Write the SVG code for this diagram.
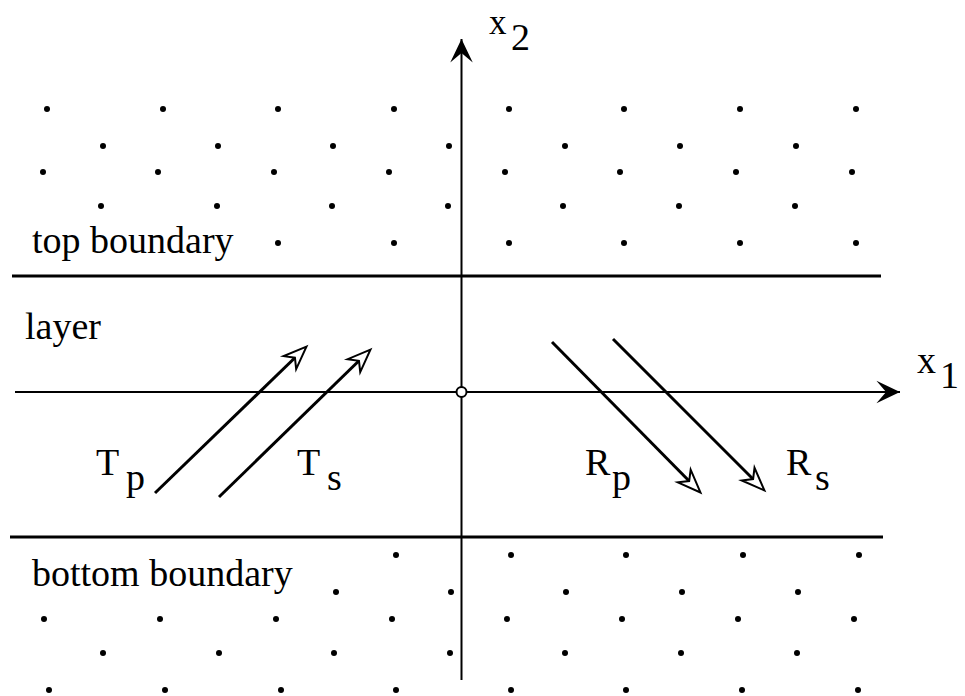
<svg xmlns="http://www.w3.org/2000/svg" width="965" height="696" viewBox="0 0 965 696">
<style>
.t{font-family:"Liberation Serif","Times New Roman",serif;font-size:38px;fill:#000}
.ln{stroke:#000;fill:none}
.d{fill:#000}
.ar{stroke:#000;stroke-width:3;fill:none;marker-end:url(#open)}
</style>
<defs>
<marker id="open" markerUnits="userSpaceOnUse" markerWidth="32" markerHeight="26" viewBox="-26 -13 30 26" refX="-2" refY="0" orient="auto">
<path d="M0,0 L-23,-9 L-16,0 L-23,9 Z" fill="#fff" stroke="#000" stroke-width="2" stroke-linejoin="miter"/>
</marker>
<marker id="axis" markerUnits="userSpaceOnUse" markerWidth="30" markerHeight="30" viewBox="-24 -14 28 28" refX="0" refY="0" orient="auto">
<path d="M0,0 L-22,-10.5 L-13,0 L-22,10.5 Z" fill="#000"/>
</marker>
</defs>
<rect width="965" height="696" fill="#fff"/>
<g id="dots">
<g class="d">
<circle cx="47" cy="109" r="3"/><circle cx="163" cy="109" r="3"/><circle cx="278" cy="109" r="3"/><circle cx="394" cy="109" r="3"/>
<circle cx="509" cy="109" r="3"/><circle cx="624" cy="109" r="3"/><circle cx="740" cy="109" r="3"/><circle cx="856" cy="109" r="3"/>
<circle cx="103" cy="146" r="3"/><circle cx="218" cy="146" r="3"/><circle cx="333" cy="146" r="3"/><circle cx="449" cy="146" r="3"/>
<circle cx="565" cy="146" r="3"/><circle cx="680" cy="146" r="3"/><circle cx="796" cy="146" r="3"/>
<circle cx="43" cy="172" r="3"/><circle cx="158" cy="172" r="3"/><circle cx="274" cy="172" r="3"/><circle cx="389" cy="172" r="3"/>
<circle cx="505" cy="172" r="3"/><circle cx="620" cy="172" r="3"/><circle cx="736" cy="172" r="3"/><circle cx="852" cy="172" r="3"/>
<circle cx="101" cy="206" r="3"/><circle cx="217" cy="206" r="3"/><circle cx="332" cy="206" r="3"/><circle cx="448" cy="206" r="3"/>
<circle cx="563" cy="206" r="3"/><circle cx="679" cy="206" r="3"/><circle cx="795" cy="206" r="3"/>
<circle cx="278" cy="243" r="3"/><circle cx="394" cy="243" r="3"/>
<circle cx="509" cy="243" r="3"/><circle cx="624" cy="243" r="3"/><circle cx="740" cy="243" r="3"/><circle cx="856" cy="243" r="3"/>
<circle cx="396" cy="555" r="3"/>
<circle cx="511" cy="555" r="3"/><circle cx="626" cy="555" r="3"/><circle cx="743" cy="555" r="3"/><circle cx="859" cy="555" r="3"/>
<circle cx="336" cy="592" r="3"/><circle cx="451" cy="592" r="3"/>
<circle cx="566" cy="592" r="3"/><circle cx="682" cy="592" r="3"/><circle cx="798" cy="592" r="3"/>
<circle cx="44" cy="619" r="3"/><circle cx="160" cy="619" r="3"/><circle cx="276" cy="619" r="3"/><circle cx="392" cy="619" r="3"/>
<circle cx="507" cy="619" r="3"/><circle cx="622" cy="619" r="3"/><circle cx="738" cy="619" r="3"/><circle cx="854" cy="619" r="3"/>
<circle cx="103" cy="653" r="3"/><circle cx="219" cy="653" r="3"/><circle cx="334" cy="653" r="3"/><circle cx="450" cy="653" r="3"/>
<circle cx="565" cy="653" r="3"/><circle cx="681" cy="653" r="3"/><circle cx="797" cy="653" r="3"/>
<circle cx="49" cy="690" r="3"/><circle cx="165" cy="690" r="3"/><circle cx="281" cy="690" r="3"/><circle cx="396" cy="690" r="3"/>
<circle cx="511" cy="690" r="3"/><circle cx="626" cy="690" r="3"/><circle cx="742" cy="690" r="3"/><circle cx="858" cy="690" r="3"/>
</g>
</g>
<g id="boundaries">
<line class="ln" x1="12" y1="276" x2="881" y2="276" stroke-width="3"/>
<line class="ln" x1="10" y1="537" x2="883" y2="537" stroke-width="3"/>
</g>
<g id="axes">
<line class="ln" x1="15" y1="392" x2="900" y2="392" stroke-width="2" marker-end="url(#axis)"/>
<line class="ln" x1="461.5" y1="680" x2="461.5" y2="39" stroke-width="2" marker-end="url(#axis)"/>
<circle id="origin" cx="461.5" cy="392" r="5" fill="#fff" stroke="#000" stroke-width="2"/>
<text class="t" x="489" y="34" style="font-size:35px">x</text>
<text class="t" x="511" y="50">2</text>
<text class="t" x="917" y="373">x</text>
<text class="t" x="940" y="388">1</text>
</g>
<g id="connectors">
<line id="Tp" class="ar" x1="155" y1="493" x2="305" y2="348"/>
<line id="Ts" class="ar" x1="219" y1="497" x2="369" y2="351"/>
<line id="Rp" class="ar" x1="552" y1="342" x2="699" y2="491"/>
<line id="Rs" class="ar" x1="613" y1="339" x2="763" y2="489"/>
</g>
<g id="labels">
<text class="t" x="32" y="253">top boundary</text>
<text class="t" x="25" y="339">layer</text>
<text class="t" x="32" y="586">bottom boundary</text>
<text class="t" x="96" y="475">T</text><text class="t" x="126" y="490">p</text>
<text class="t" x="297" y="475">T</text><text class="t" x="327" y="490">s</text>
<text class="t" x="585" y="475">R</text><text class="t" x="612" y="490">p</text>
<text class="t" x="786" y="475">R</text><text class="t" x="815" y="490">s</text>
</g>
</svg>
